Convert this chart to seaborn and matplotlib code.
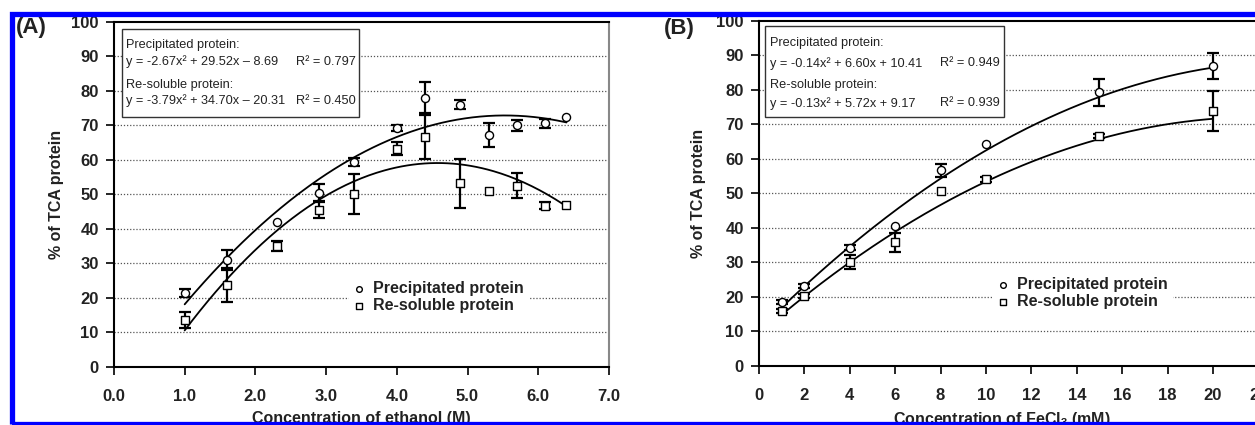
import numpy as np
import pandas as pd
import seaborn as sns
import matplotlib.pyplot as plt
from matplotlib.patches import Rectangle

# (A) ethanol
eth_x = [1.0, 1.6, 2.3, 2.9, 3.4, 4.0, 4.4, 4.9, 5.3, 5.7, 6.1, 6.4]
eth_prec = [21.5, 31.0, 42.0, 50.4, 59.4, 69.3, 78.1, 76.0, 67.3, 70.0, 70.6, 72.5]
eth_prec_err = [1.2, 3.0, 0, 2.7, 1.2, 0.8, 4.6, 1.3, 3.5, 1.5, 1.3, 0]
eth_resol = [13.6, 23.8, 35.0, 45.6, 50.1, 63.3, 66.6, 53.2, 51.1, 52.6, 46.8, 47.0]
eth_resol_err = [2.3, 5.0, 1.5, 2.5, 5.9, 2.0, 6.4, 7.2, 0, 3.7, 1.0, 0]
eth_prec_coef = [-2.67, 29.52, -8.69]
eth_resol_coef = [-3.79, 34.70, -20.31]

# (B) FeCl3
fe_x = [1, 2, 4, 6, 8, 10, 15, 20]
fe_prec = [18.4, 23.2, 34.2, 40.6, 56.6, 64.3, 79.2, 86.9]
fe_prec_err = [0.6, 0.6, 0.8, 0, 1.8, 0, 3.9, 3.7]
fe_resol = [15.9, 20.1, 30.0, 35.8, 50.6, 54.0, 66.6, 73.8]
fe_resol_err = [0.6, 0.6, 2.0, 2.7, 0, 0.8, 0.5, 5.7]
fe_prec_coef = [-0.14, 6.60, 10.41]
fe_resol_coef = [-0.13, 5.72, 9.17]

sns.set_style("white")
plt.rcParams['font.family'] = ['Liberation Sans', 'DejaVu Sans']

fig = plt.figure(figsize=(12.55, 4.25), dpi=100)
axA = fig.add_axes([0.0908, 0.1365, 0.3944, 0.8118])
axB = fig.add_axes([0.6048, 0.1395, 0.3979, 0.8118])


def draw_panel(ax, x, prec, prec_err, resol, resol_err, c1, c2):
    df = pd.DataFrame({"x": x, "prec": prec, "pe": prec_err,
                       "resol": resol, "re": resol_err})
    # fitted curves
    xs = np.linspace(min(x), max(x), 200)
    sns.lineplot(x=xs, y=np.polyval(c1, xs), color="black", lw=1.3, ax=ax, zorder=3)
    sns.lineplot(x=xs, y=np.polyval(c2, xs), color="black", lw=1.3, ax=ax, zorder=3)
    # error bars
    for col, ecol in [("prec", "pe"), ("resol", "re")]:
        d = df[df[ecol] > 0]
        ax.errorbar(d["x"], d[col], yerr=d[ecol], fmt="none", ecolor="black",
                    elinewidth=1.6, capsize=4, capthick=1.6, zorder=2)
    sns.scatterplot(data=df, x="x", y="prec", marker="o", s=34, facecolor="white",
                    edgecolor="black", linewidth=1.0, ax=ax, zorder=4,
                    label="Precipitated protein")
    sns.scatterplot(data=df, x="x", y="resol", marker="s", s=30, facecolor="white",
                    edgecolor="black", linewidth=1.0, ax=ax, zorder=4,
                    label="Re-soluble protein")


draw_panel(axA, eth_x, eth_prec, eth_prec_err, eth_resol, eth_resol_err,
           eth_prec_coef, eth_resol_coef)
draw_panel(axB, fe_x, fe_prec, fe_prec_err, fe_resol, fe_resol_err,
           fe_prec_coef, fe_resol_coef)

axA.set_xlim(0, 7)
axA.set_xticks(np.arange(0, 8, 1))
axA.set_xticklabels([f"{v:.1f}" for v in np.arange(0, 8, 1)])
axB.set_xlim(0, 22)
axB.set_xticks(np.arange(0, 24, 2))

for ax in (axA, axB):
    ax.set_ylim(0, 100)
    ax.set_yticks(np.arange(0, 101, 10))
    for g in range(10, 100, 10):
        ax.axhline(g, color="#555555", lw=0.9, ls=(0, (1, 1.5)), zorder=0)
    ax.tick_params(axis="x", direction="out", length=6, width=1.2, pad=10,
                   labelsize=12, bottom=True, color="black")
    ax.tick_params(axis="y", direction="out", length=6, width=1.2, pad=5,
                   labelsize=12, left=True, color="black")
    for lab in ax.get_xticklabels() + ax.get_yticklabels():
        lab.set_fontweight("bold")
        lab.set_color("#222222")
    for s in ["left", "bottom", "top"]:
        ax.spines[s].set_color("black")
        ax.spines[s].set_linewidth(1.5)
    ax.spines["right"].set_color("#888888")
    ax.spines["right"].set_linewidth(1.5)
    ax.set_ylabel("% of TCA protein", fontsize=11.5, fontweight="bold", color="#222222")

axA.set_xlabel("Concentration of ethanol (M)", fontsize=11.5, fontweight="bold", color="#222222")
axB.set_xlabel("Concentration of FeCl$_\\mathregular{3}$ (mM)", fontsize=11.5,
               fontweight="bold", color="#222222")
axA.xaxis.set_label_coords(0.5, -0.127)
axB.xaxis.set_label_coords(0.487, -0.127)
axA.yaxis.set_label_coords(-0.10, 0.5)
axB.yaxis.set_label_coords(-0.106, 0.5)

# legends
for ax, anchor in [(axA, (0.459, 0.203)), (axB, (0.453, 0.21))]:
    leg = ax.legend(loc="center left", bbox_to_anchor=anchor, frameon=True,
                    fancybox=False, framealpha=1, edgecolor="none",
                    prop={"size": 11.5, "weight": "bold"}, handlelength=0.6,
                    handletextpad=0.6, labelspacing=0.15, borderpad=0.3,
                    markerscale=0.7)
    for t in leg.get_texts():
        t.set_color("#222222")

# equation boxes
boxes = [
    (axA, (0.016, 0.725), 0.479, 0.255, 0.024, 0.368,
     ["Precipitated protein:", "y = -2.67x² + 29.52x – 8.69", "R² = 0.797",
      "Re-soluble protein:", "y = -3.79x² + 34.70x – 20.31", "R² = 0.450"],
     [0.933, 0.884, 0.817, 0.771]),
    (axB, (0.012, 0.72), 0.478, 0.265, 0.022, 0.362,
     ["Precipitated protein:", "y = -0.14x² + 6.60x + 10.41", "R² = 0.949",
      "Re-soluble protein:", "y = -0.13x² + 5.72x + 9.17", "R² = 0.939"],
     [0.935, 0.876, 0.813, 0.761]),
]
for ax, xy, w, h, tx, rx, txt, ys in boxes:
    ax.add_patch(Rectangle(xy, w, h, transform=ax.transAxes, facecolor="white",
                           edgecolor="#333333", lw=1.0, zorder=5))
    kw = dict(transform=ax.transAxes, fontsize=9.2, va="center", zorder=6, color="#222222")
    ax.text(tx, ys[0], txt[0], **kw)
    ax.text(tx, ys[1], txt[1], **kw)
    ax.text(rx, ys[1], txt[2], **kw)
    ax.text(tx, ys[2], txt[3], **kw)
    ax.text(tx, ys[3], txt[4], **kw)
    ax.text(rx, ys[3], txt[5], **kw)

# panel letters
fig.text(0.0251, 0.936, "(A)", fontsize=16, fontweight="bold", ha="center", va="center",
         color="#222222")
fig.text(0.5414, 0.934, "(B)", fontsize=16, fontweight="bold", ha="center", va="center",
         color="#222222")

# blue frame
fig.add_artist(Rectangle((0.00996, 0.0035), 1.05, 0.9647, transform=fig.transFigure,
                         facecolor="none", edgecolor="#0000ff", lw=3.8, clip_on=False,
                         zorder=10))

fig.savefig("out.png", dpi=100)
